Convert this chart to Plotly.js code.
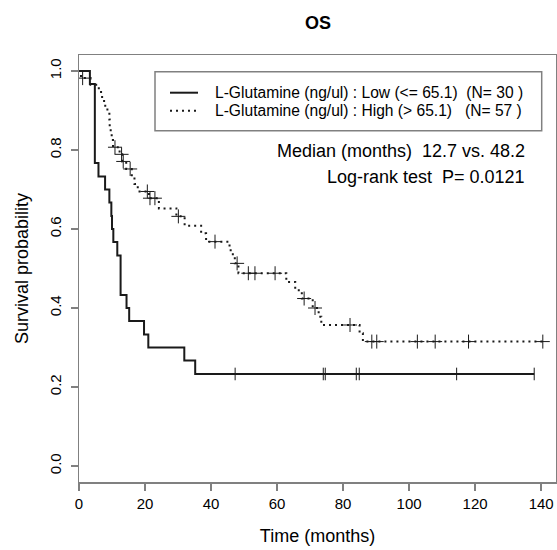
<!DOCTYPE html>
<html>
<head>
<meta charset="utf-8">
<script src="https://cdn.plot.ly/plotly-3.0.1.min.js"></script>
<style>html,body{margin:0;padding:0;background:#fff;}#chart{width:557px;height:550px;}</style>
</head>
<body>
<div id="chart"></div>
<script>
// ---- Data ----
const groupLabels = ['L-Glutamine (ng/ul) : Low (<= 65.1)', 'L-Glutamine (ng/ul) : High (> 65.1)'];
const groupN = [30, 57];

// Low group: event times (months) and survival after each event
const lowEventTimes = [3.3, 4.8, 5.9, 7.9, 9.2, 9.8, 10.0, 10.4, 11.6, 12.6, 14.4, 15.2, 19.7, 21.0, 31.9, 35.2];
const lowSurv       = [0.967, 0.767, 0.733, 0.700, 0.667, 0.633, 0.600, 0.567, 0.533, 0.433, 0.400, 0.367, 0.333, 0.300, 0.267, 0.233];
const lowCensor     = [47.3, 74.0, 74.6, 84.0, 84.9, 114.4, 137.9];

// High group
const highEventTimes = [0.6, 3.5, 6.0, 7.0, 7.6, 8.6, 9.2, 9.3, 9.6, 9.9, 10.3, 12.3, 13.1, 14.3, 16.0, 16.8, 17.8, 21.2, 24.2, 29.5, 32.0, 37.0, 38.5, 45.6, 46.6, 47.2, 48.3, 62.8, 65.5, 67.5, 70.8, 72.6, 73.4, 85.0, 86.0];
const highSurv       = [0.982, 0.965, 0.947, 0.930, 0.912, 0.895, 0.877, 0.860, 0.842, 0.825, 0.807, 0.789, 0.771, 0.752, 0.733, 0.714, 0.695, 0.678, 0.652, 0.632, 0.608, 0.589, 0.568, 0.546, 0.530, 0.513, 0.488, 0.466, 0.445, 0.424, 0.400, 0.378, 0.357, 0.336, 0.315];
const highCensor     = [1.1, 10.9, 12.9, 13.4, 15.5, 20.7, 21.5, 23.0, 30.1, 41.2, 47.9, 51.3, 53.3, 59.4, 68.2, 71.5, 82.1, 88.7, 90.2, 102.5, 107.9, 118.0, 140.5];

const medianText = 'Median (months)  12.7 vs. 48.2';
const pText = 'Log-rank test  P= 0.0121';

const xTicks = [0, 20, 40, 60, 80, 100, 120, 140];
const yTicks = [0, 0.2, 0.4, 0.6, 0.8, 1.0];
const yTickText = ['0.0', '0.2', '0.4', '0.6', '0.8', '1.0'];

// ---- helpers ----
function stepAt(times, surv, t) {
  let s = 1;
  for (let i = 0; i < times.length; i++) { if (times[i] <= t) s = surv[i]; }
  return s;
}
function curve(times, surv, censor) {
  const endT = Math.max(times[times.length - 1], Math.max.apply(null, censor));
  const x = [0].concat(times, [endT]);
  const y = [1].concat(surv, [surv[surv.length - 1]]);
  return {x, y};
}

const lowC = curve(lowEventTimes, lowSurv, lowCensor);
const highC = curve(highEventTimes, highSurv, highCensor);
const col = '#1a1a1a';

const traces = [
  {x: lowC.x, y: lowC.y, type: 'scatter', mode: 'lines', line: {shape: 'hv', color: col, width: 2}, name: groupLabels[0], showlegend: false, hoverinfo: 'skip'},
  {x: highC.x, y: highC.y, type: 'scatter', mode: 'lines', line: {shape: 'hv', color: col, width: 2, dash: '2px,4px'}, name: groupLabels[1], showlegend: false, hoverinfo: 'skip'},
  {x: lowCensor, y: lowCensor.map(t => stepAt(lowEventTimes, lowSurv, t)), type: 'scatter', mode: 'markers',
   marker: {symbol: 'line-ns', size: 9, line: {color: col, width: 1}}, showlegend: false, hoverinfo: 'skip'},
  {x: highCensor, y: highCensor.map(t => stepAt(highEventTimes, highSurv, t)), type: 'scatter', mode: 'markers',
   marker: {symbol: 'cross-thin', size: 10, line: {color: col, width: 1}}, showlegend: false, hoverinfo: 'skip'}
];

// plot area in pixels: x 79..556, y 55..482
const px = p => (p - 79) / 477;
const py = p => (482 - p) / 427;

const legendRows = [92.7, 110.7];
const shapes = [
  {type: 'rect', xref: 'paper', yref: 'paper', x0: px(155), x1: px(541.7), y0: py(130.7), y1: py(71.7), line: {color: '#808080', width: 1.5}, fillcolor: 'rgba(0,0,0,0)'},
  {type: 'line', xref: 'paper', yref: 'paper', x0: px(170), x1: px(198), y0: py(legendRows[0]), y1: py(legendRows[0]), line: {color: col, width: 2}},
  {type: 'line', xref: 'paper', yref: 'paper', x0: px(170), x1: px(198), y0: py(legendRows[1]), y1: py(legendRows[1]), line: {color: col, width: 2, dash: '2px,4px'}}
];

const annotations = [
  {xref: 'paper', yref: 'paper', x: px(212.7), y: py(legendRows[0]), xanchor: 'left', yanchor: 'middle', showarrow: false,
   text: groupLabels[0].replace('<', '&lt;') + '&nbsp;&nbsp;(N= ' + groupN[0] + ' )', font: {size: 15.6, color: '#000'}},
  {xref: 'paper', yref: 'paper', x: px(212.7), y: py(legendRows[1]), xanchor: 'left', yanchor: 'middle', showarrow: false,
   text: groupLabels[1].replace('>', '&gt;') + '&nbsp;&nbsp;&nbsp;(N= ' + groupN[1] + ' )', font: {size: 15.6, color: '#000'}},
  {xref: 'paper', yref: 'paper', x: px(527), y: py(150.7), xanchor: 'right', yanchor: 'middle', showarrow: false,
   text: medianText.replace('  ', '&nbsp;&nbsp;'), font: {size: 18, color: '#000'}},
  {xref: 'paper', yref: 'paper', x: px(527), y: py(177.3), xanchor: 'right', yanchor: 'middle', showarrow: false,
   text: pText.replace('  ', '&nbsp;&nbsp;'), font: {size: 18, color: '#000'}}
];

const layout = {
  width: 557, height: 550,
  margin: {l: 79, r: 1, t: 55, b: 68, pad: 0},
  paper_bgcolor: '#fff', plot_bgcolor: '#fff',
  font: {family: '"Liberation Sans", Arial, sans-serif', color: '#000', size: 15},
  title: {text: '<b>OS</b>', xref: 'container', yref: 'container', x: 318 / 557, y: 1 - 23 / 550, xanchor: 'center', yanchor: 'middle', font: {size: 18, color: '#000'}},
  xaxis: {
    range: [0, 144.5], tickvals: xTicks, ticks: 'outside', ticklen: 7, tickwidth: 1.5, tickcolor: '#808080',
    showline: true, mirror: true, linecolor: '#808080', linewidth: 1.5, showgrid: false, zeroline: false,
    tickfont: {size: 15, color: '#000'}, fixedrange: true,
    title: {text: 'Time (months)', font: {size: 18, color: '#000'}, standoff: 19}
  },
  yaxis: {
    range: [-0.0405, 1.0405], tickvals: yTicks, ticktext: yTickText, tickangle: -90, ticks: 'outside', ticklen: 7, tickwidth: 1.5, tickcolor: '#808080',
    showline: true, mirror: true, linecolor: '#808080', linewidth: 1.5, showgrid: false, zeroline: false,
    tickfont: {size: 15, color: '#000'}, fixedrange: true, ticklabelstandoff: 4,
    title: {text: 'Survival probability', font: {size: 18, color: '#000'}, standoff: 13}
  },
  shapes: shapes,
  annotations: annotations,
  showlegend: false
};

Plotly.newPlot('chart', traces, layout, {displayModeBar: false, staticPlot: true});
</script>
</body>
</html>
